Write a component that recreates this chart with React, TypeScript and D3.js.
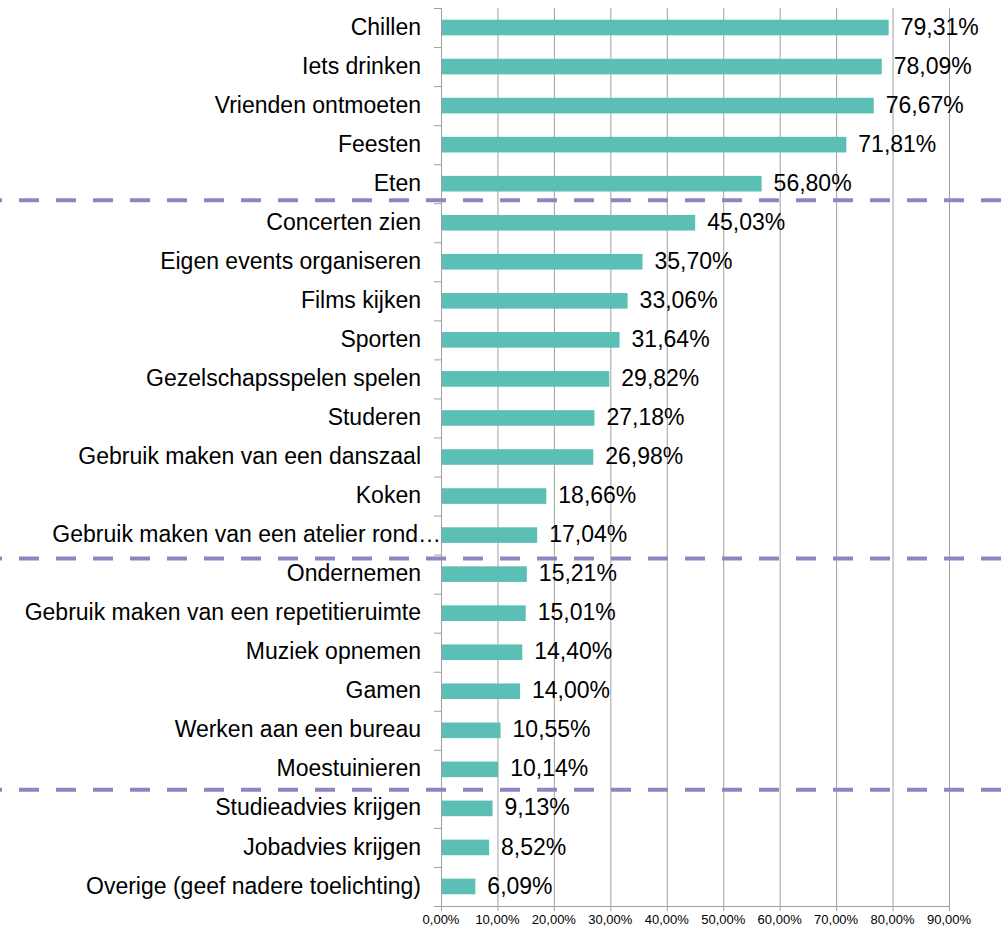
import React, { useEffect, useRef } from "react";
import * as d3 from "d3";

const categories = [
  "Chillen",
  "Iets drinken",
  "Vrienden ontmoeten",
  "Feesten",
  "Eten",
  "Concerten zien",
  "Eigen events organiseren",
  "Films kijken",
  "Sporten",
  "Gezelschapsspelen spelen",
  "Studeren",
  "Gebruik maken van een danszaal",
  "Koken",
  "Gebruik maken van een atelier rond…",
  "Ondernemen",
  "Gebruik maken van een repetitieruimte",
  "Muziek opnemen",
  "Gamen",
  "Werken aan een bureau",
  "Moestuinieren",
  "Studieadvies krijgen",
  "Jobadvies krijgen",
  "Overige (geef nadere toelichting)",
];

const values = [
  79.31, 78.09, 76.67, 71.81, 56.8, 45.03, 35.7, 33.06, 31.64, 29.82, 27.18,
  26.98, 18.66, 17.04, 15.21, 15.01, 14.4, 14.0, 10.55, 10.14, 9.13, 8.52, 6.09,
];

// group separators sit after these categories (hand-placed lines, slight offsets)
const groupEnds = ["Eten", "Gebruik maken van een atelier rond…", "Moestuinieren"];
const groupNudge = [-3, 4, 1];

const xTicks = [0, 10, 20, 30, 40, 50, 60, 70, 80, 90];

const fmt = (v: number) => v.toFixed(2).replace(".", ",") + "%";
const FONT = "'Liberation Sans', Arial, sans-serif";

const App = () => {
  const ref = useRef<SVGSVGElement>(null);

  useEffect(() => {
    const width = 1002;
    const height = 932;
    const margin = { top: 8, right: 53, bottom: 26, left: 441 };
    const innerW = width - margin.left - margin.right;
    const innerH = height - margin.top - margin.bottom;

    const svg = d3.select(ref.current);
    svg.selectAll("*").remove();

    const x = d3.scaleLinear().domain([0, 90]).range([0, innerW]);
    const y = d3
      .scaleBand()
      .domain(categories)
      .range([0, innerH])
      .paddingInner(0.6)
      .paddingOuter(0.3);
    const step = y.step();

    const g = svg
      .append("g")
      .attr("transform", `translate(${margin.left},${margin.top})`);

    // vertical gridlines + x ticks
    g.append("g")
      .selectAll("line")
      .data(xTicks.slice(1))
      .join("line")
      .attr("x1", (d) => x(d) + 0.5)
      .attr("x2", (d) => x(d) + 0.5)
      .attr("y1", 0)
      .attr("y2", innerH + 5)
      .attr("stroke", "#a0a0a0")
      .attr("stroke-width", 1);

    // bars
    g.append("g")
      .selectAll("rect")
      .data(values)
      .join("rect")
      .attr("x", 0)
      .attr("y", (d, i) => y(categories[i])!)
      .attr("width", (d) => x(d))
      .attr("height", y.bandwidth())
      .attr("fill", "#5bbfb6");

    // value labels
    g.append("g")
      .selectAll("text")
      .data(values)
      .join("text")
      .attr("x", (d) => x(d) + 12)
      .attr("y", (d, i) => y(categories[i])! + y.bandwidth() / 2 + 1)
      .attr("dominant-baseline", "middle")
      .attr("font-family", FONT)
      .attr("font-size", 23)
      .attr("fill", "#000")
      .text((d) => fmt(d));

    // y axis line + category ticks
    g.append("line")
      .attr("x1", 0.5)
      .attr("x2", 0.5)
      .attr("y1", 0)
      .attr("y2", innerH)
      .attr("stroke", "#a0a0a0");
    g.append("g")
      .selectAll("line")
      .data(d3.range(categories.length + 1))
      .join("line")
      .attr("x1", -7)
      .attr("x2", 0)
      .attr("y1", (d) => d * step + 0.5)
      .attr("y2", (d) => d * step + 0.5)
      .attr("stroke", "#a0a0a0");

    // x axis line
    g.append("line")
      .attr("x1", -7)
      .attr("x2", innerW + 0.5)
      .attr("y1", innerH + 0.5)
      .attr("y2", innerH + 0.5)
      .attr("stroke", "#a0a0a0");
    g.append("line")
      .attr("x1", 0.5)
      .attr("x2", 0.5)
      .attr("y1", innerH)
      .attr("y2", innerH + 5)
      .attr("stroke", "#a0a0a0");

    // x tick labels
    g.append("g")
      .selectAll("text")
      .data(xTicks)
      .join("text")
      .attr("x", (d) => x(d))
      .attr("y", innerH + 15)
      .attr("text-anchor", "middle")
      .attr("dominant-baseline", "middle")
      .attr("font-family", FONT)
      .attr("font-size", 13)
      .attr("fill", "#000")
      .text((d) => d.toFixed(2).replace(".", ",") + "%");

    // category labels
    g.append("g")
      .selectAll("text")
      .data(categories)
      .join("text")
      .attr("x", (d) => (d.endsWith("…") ? 0 : -20))
      .attr("y", (d) => y(d)! + y.bandwidth() / 2 + 1)
      .attr("text-anchor", "end")
      .attr("dominant-baseline", "middle")
      .attr("font-family", FONT)
      .attr("font-size", 23)
      .attr("fill", "#000")
      .text((d) => d);

    // dashed group separators
    const sepY = (d: string, i: number) =>
      margin.top + y(d)! + y.bandwidth() + step * 0.3 + groupNudge[i];
    svg
      .append("g")
      .selectAll("line")
      .data(groupEnds)
      .join("line")
      .attr("x1", 0)
      .attr("x2", width)
      .attr("y1", sepY)
      .attr("y2", sepY)
      .attr("stroke", "#8e86c0")
      .attr("stroke-width", 4)
      .attr("stroke-dasharray", "20,17")
      .attr("stroke-dashoffset", 18);
  }, []);

  return (
    <svg
      ref={ref}
      width={1002}
      height={932}
      style={{ position: "absolute", left: 0, top: 0, background: "#fff" }}
    ></svg>
  );
};

export default App;
